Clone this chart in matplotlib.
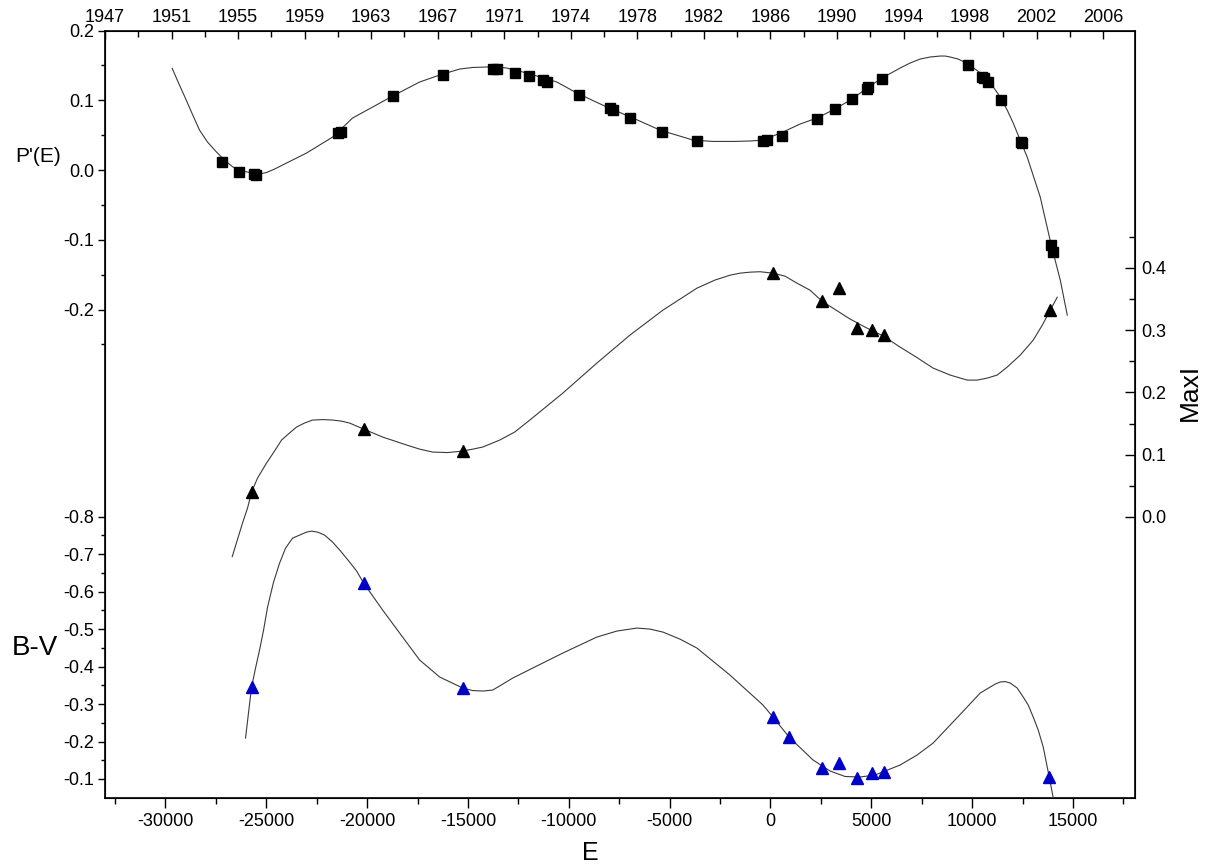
import matplotlib
matplotlib.use("Agg")
import matplotlib.pyplot as plt
from matplotlib.ticker import FixedLocator, MultipleLocator

plt.rcParams['font.family'] = ['Liberation Sans', 'DejaVu Sans']

# ---------------- data ----------------
# P'(E) observed points (squares)
p_E = [-27222, -26378, -25634, -25535, -21466, -21317, -18736, -16255, -13770, -13575,
       -12681, -11986, -11292, -11093, -9505, -7966, -7817, -6973, -5385, -3648,
       -372, -174, 571, 2308, 3201, 4045, 4789, 4839, 5534, 9802,
       10497, 10596, 10795, 11440, 12432, 12482, 13922, 14021]
p_val = [0.0115, -0.0029, -0.0057, -0.0072, 0.053, 0.0545, 0.106, 0.136, 0.145, 0.145,
         0.139, 0.135, 0.129, 0.126, 0.1075, 0.089, 0.086, 0.0746, 0.0545, 0.0416,
         0.0416, 0.043, 0.0487, 0.0731, 0.0875, 0.1018, 0.116, 0.119, 0.130, 0.1505,
         0.133, 0.132, 0.126, 0.100, 0.040, 0.0387, -0.1075, -0.1176]

pc_E = [-29669, -29331, -28974, -28627, -28314, -27916, -27485, -27072, -26676, -26180,
        -25683, -25336, -24989, -24592, -24195, -23004, -21713, -20721, -19728, -18736,
        -17396, -16403, -15410, -14765, -14070, -13574, -13078, -12085, -10596, -9604,
        -8115, -6824, -5484, -3846, -2854, -1861, -1017, -372, 620, 1464,
        2308, 3201, 4045, 4789, 5534, 6427, 6924, 7420, 7916, 8413,
        8661, 8909, 9306, 9802, 10745, 11390, 11737, 12035, 12730, 13375,
        13922, 14369, 14716]
pc_val = [0.1458, 0.1233, 0.1004, 0.0774, 0.0573, 0.0401, 0.0262, 0.0143, 0.0047, -0.0014,
          -0.0043, -0.0057, -0.0035, 0.0014, 0.0072, 0.0244, 0.0473, 0.0746, 0.0903, 0.1061,
          0.1262, 0.1362, 0.1448, 0.1470, 0.1477, 0.1477, 0.1462, 0.1391, 0.1262, 0.1104,
          0.0903, 0.0746, 0.0573, 0.0430, 0.0410, 0.0410, 0.0416, 0.0430, 0.0545, 0.0659,
          0.0746, 0.0875, 0.1018, 0.1176, 0.1319, 0.1462, 0.1534, 0.1591, 0.1620, 0.1634,
          0.1634, 0.1620, 0.1591, 0.1520, 0.1319, 0.1047, 0.0860, 0.0674, 0.0186, -0.0387,
          -0.1075, -0.1577, -0.2079]

# MaxI observed points (black triangles)
m_E = [-25733, -20174, -15261, 124, 2556, 3400, 4293, 5037, 5633, 13872]
m_val = [0.040, 0.141, 0.106, 0.392, 0.347, 0.368, 0.303, 0.300, 0.292, 0.332]

mc_E = [-26691, -26180, -25931, -25733, -25435, -24989, -24592, -24244, -23848, -23500,
        -23103, -22706, -22210, -21713, -21266, -20870, -20174, -19232, -18041, -17396,
        -16750, -16006, -15261, -14765, -14269, -13425, -12681, -11936, -10298, -8611,
        -6973, -5335, -3648, -2754, -2010, -1514, -1017, -521, 124, 720,
        1315, 1960, 2556, 3946, 4690, 5633, 6427, 7172, 8065, 8909,
        9752, 10248, 10745, 11241, 11738, 12382, 13028, 13474, 13872, 14220]
mc_val = [-0.0637, -0.0096, 0.0144, 0.0401, 0.0626, 0.0867, 0.1060, 0.1236, 0.1350, 0.1445,
          0.1510, 0.1557, 0.1565, 0.1557, 0.1540, 0.1509, 0.1412, 0.1284, 0.1156, 0.1090,
          0.1043, 0.1035, 0.1059, 0.1090, 0.1124, 0.1236, 0.1365, 0.1557, 0.1990, 0.2472,
          0.2921, 0.3323, 0.3676, 0.3806, 0.3884, 0.3917, 0.3933, 0.3940, 0.3917, 0.3869,
          0.3756, 0.3644, 0.3467, 0.3180, 0.3050, 0.2900, 0.2729, 0.2580, 0.2392, 0.2280,
          0.2199, 0.2199, 0.2231, 0.2280, 0.2408, 0.2600, 0.2841, 0.3080, 0.3323, 0.3531]

# B-V observed points (blue triangles)
b_E = [-25733, -20174, -15261, 124, 918, 2556, 3400, 4293, 5037, 5633, 13822]
b_val = [-0.345, -0.623, -0.343, -0.265, -0.212, -0.129, -0.143, -0.103, -0.116, -0.119, -0.105]

bc_E = [-26031, -25733, -25535, -25336, -25137, -24939, -24642, -24343, -24046, -23698,
        -23351, -23004, -22756, -22458, -22111, -21713, -21316, -20870, -20522, -20174,
        -19232, -18388, -17396, -16403, -15261, -14765, -14269, -13773, -12780, -11689,
        -10298, -8611, -7618, -6626, -5981, -5335, -4492, -3648, -2010, -372,
        124, 918, 2109, 2953, 3698, 4442, 5187, 6427, 7271, 8065,
        8909, 9752, 10397, 10894, 11142, 11390, 11638, 11887, 12234, 12532,
        12780, 13028, 13276, 13524, 13822, 14021]
bc_val = [-0.2093, -0.3453, -0.396, -0.444, -0.4973, -0.5587, -0.6253, -0.676, -0.716, -0.7427,
          -0.7507, -0.7587, -0.7613, -0.7587, -0.7507, -0.732, -0.708, -0.6787, -0.6547, -0.6227,
          -0.5507, -0.4893, -0.4173, -0.372, -0.3427, -0.3360, -0.3347, -0.3373, -0.3693, -0.3987,
          -0.436, -0.4787, -0.4947, -0.5027, -0.5000, -0.492, -0.4733, -0.4493, -0.3773, -0.2973,
          -0.2653, -0.212, -0.1507, -0.1213, -0.1067, -0.1053, -0.1107, -0.1373, -0.164, -0.196,
          -0.244, -0.292, -0.3293, -0.3453, -0.3533, -0.3587, -0.3600, -0.356, -0.3427, -0.3187,
          -0.2973, -0.2653, -0.2307, -0.1853, -0.1053, -0.0493]

# axes tick values / labels
e_ticks = [-30000, -25000, -20000, -15000, -10000, -5000, 0, 5000, 10000, 15000]
year_labels = ['1947', '1951', '1955', '1959', '1963', '1967', '1971', '1974',
               '1978', '1982', '1986', '1990', '1994', '1998', '2002', '2006']
year_E = [-33000 + 3300 * k for k in range(len(year_labels))]
p_ticks = [-0.2, -0.1, 0.0, 0.1, 0.2]
m_ticks = [0.0, 0.1, 0.2, 0.3, 0.4]
bv_ticks = [-0.8, -0.7, -0.6, -0.5, -0.4, -0.3, -0.2, -0.1]

# ---------------- figure ----------------
W, H = 1221, 868
fig = plt.figure(figsize=(W / 100, H / 100), dpi=100)
L, R, T, B = 105, 1134.5, 30.5, 798
ax = fig.add_axes([L / W, 1 - B / H, (R - L) / W, (B - T) / H])

line_kw = dict(color='#3a3a3a', lw=0.8, solid_joinstyle='round')
tick_fs = 13

ax.set_xlim(-33000, 18050)
ax.set_ylim(-0.9, 0.2)
ax.plot(pc_E, pc_val, **line_kw, zorder=2)
ax.plot(p_E, p_val, 's', color='black', ms=7.5, zorder=3)
ax.set_xticks(e_ticks)
ax.set_xticklabels([str(v) for v in e_ticks])
ax.xaxis.set_minor_locator(MultipleLocator(2500))
ax.yaxis.set_major_locator(FixedLocator(p_ticks))
ax.set_yticklabels(['-0.2', '-0.1', '0.0', '0.1', '0.2'])
ax.yaxis.set_minor_locator(FixedLocator([-0.25, -0.15, -0.05, 0.05, 0.15]))
ax.tick_params(axis='x', which='major', direction='out', length=7, width=1, labelsize=tick_fs, pad=4)
ax.tick_params(axis='x', which='minor', direction='out', length=4, width=1)
ax.tick_params(axis='y', which='major', direction='out', length=5, width=1, labelsize=tick_fs, pad=3)
ax.tick_params(axis='y', which='minor', direction='out', length=3, width=1)
ax.tick_params(top=False, right=False)
for s in ax.spines.values():
    s.set_linewidth(1.2)

# top axis (years)
axt = ax.twiny()
axt.set_xlim(ax.get_xlim())
axt.set_xticks(year_E)
axt.set_xticklabels(year_labels)
axt.xaxis.set_minor_locator(FixedLocator([v + 1650 for v in year_E[:-1]]))
axt.tick_params(axis='x', which='major', direction='in', length=6, width=1, labelsize=tick_fs, pad=3)
axt.tick_params(axis='x', which='minor', direction='in', length=4, width=1)
axt.tick_params(axis='y', left=False, right=False, labelleft=False, labelright=False)

# right axis (MaxI)
axr = ax.twinx()
axr.set_ylim(-0.4514, 0.7815)
axr.plot(mc_E, mc_val, **line_kw, zorder=2)
axr.plot(m_E, m_val, '^', color='black', ms=8.5, zorder=3)
axr.yaxis.set_major_locator(FixedLocator(m_ticks))
axr.set_yticklabels(['0.0', '0.1', '0.2', '0.3', '0.4'])
axr.yaxis.set_minor_locator(FixedLocator([0.05, 0.15, 0.25, 0.35, 0.45]))
axr.tick_params(axis='y', which='major', direction='in', length=7, width=1, labelsize=tick_fs, pad=5)
axr.tick_params(axis='y', which='minor', direction='in', length=4, width=1)
for s in axr.spines.values():
    s.set_visible(False)

# B-V axis (left, lower part)
axb = ax.twinx()
axb.set_ylim(-0.0493, -2.097)
axb.plot(bc_E, bc_val, **line_kw, zorder=2)
axb.plot(b_E, b_val, '^', color='#0000c8', ms=8.5, zorder=3)
axb.yaxis.set_ticks_position('left')
axb.yaxis.set_major_locator(FixedLocator(bv_ticks))
axb.set_yticklabels(['-0.8', '-0.7', '-0.6', '-0.5', '-0.4', '-0.3', '-0.2', '-0.1'])
axb.yaxis.set_minor_locator(FixedLocator([-0.75, -0.65, -0.55, -0.45, -0.35, -0.25, -0.15]))
axb.tick_params(axis='y', which='major', direction='out', length=5, width=1, labelsize=tick_fs, pad=3)
axb.tick_params(axis='y', which='minor', direction='out', length=3, width=1)
for s in axb.spines.values():
    s.set_visible(False)

# axis titles
fig.text(38 / W, 1 - 157 / H, "P'(E)", fontsize=15, ha='center', va='center')
fig.text(35 / W, 1 - 648 / H, "B-V", fontsize=20, ha='center', va='center')
fig.text(1190 / W, 1 - 392 / H, "MaxI", fontsize=19, ha='center', va='center', rotation=90)
fig.text(590 / W, 1 - 853 / H, "E", fontsize=18, ha='center', va='center')

fig.savefig('out.png', dpi=100)
